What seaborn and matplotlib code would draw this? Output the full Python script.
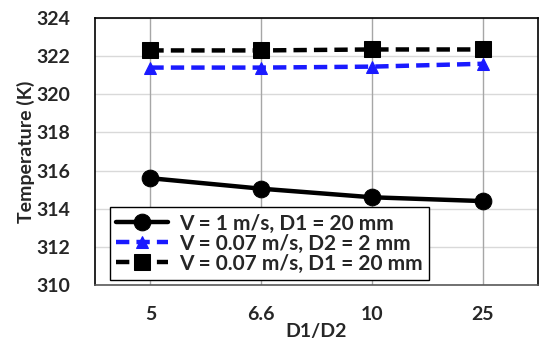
import matplotlib
matplotlib.use("Agg")
import matplotlib.pyplot as plt
import seaborn as sns
import pandas as pd

categories = ["5", "6.6", "10", "25"]
s1_label = "V = 1 m/s, D1 = 20 mm"
s1 = [315.6, 315.05, 314.6, 314.4]
s2_label = "V = 0.07 m/s, D2 = 2 mm"
s2 = [321.4, 321.4, 321.45, 321.6]
s3_label = "V = 0.07 m/s, D1 = 20 mm"
s3 = [322.3, 322.3, 322.35, 322.35]
yticks = [310, 312, 314, 316, 318, 320, 322, 324]

sns.set_style("white")
plt.rcParams['font.family'] = ['Lato', 'DejaVu Sans']

fig = plt.figure(figsize=(5.5, 3.48), dpi=100)
ax = fig.add_axes([95/550, 1-285/348, (538-95)/550, (285-18)/348])

styles = [
    (s1, s1_label, "black", "o", (None, None), 12, "-"),
    (s2, s2_label, "#1a1aff", "^", (3, 1.6), 9, "--"),
    (s3, s3_label, "black", "s", (3, 1.6), 11, "--"),
]
for vals, lab, col, mk, dash, ms, ls in styles:
    df = pd.DataFrame({"x": categories, "y": vals})
    sns.lineplot(data=df, x="x", y="y", ax=ax, color=col, marker=mk,
                 markersize=ms, linewidth=3.2, label=lab, markeredgecolor=col,
                 linestyle=ls, sort=False, zorder=3)
    if ls == "--":
        ax.lines[-1].set_dashes(dash)

ax.set_xlim(-0.5, 3.5)
ax.set_ylim(310, 324)
ax.set_yticks(yticks)
ax.set_yticklabels([str(t) for t in yticks], fontsize=14, fontweight="bold")
ax.set_xticks(range(len(categories)))
ax.set_xticklabels(categories, fontsize=14, fontweight="bold")
ax.tick_params(axis="x", length=0, pad=15)
ax.tick_params(axis="y", length=0, pad=18)

ax.grid(axis="y", color="#d9d9d9", linewidth=1)
for i in range(len(categories)):
    ax.axvline(i, color="#a6a6a6", linewidth=1, zorder=1)
ax.set_axisbelow(True)

for sp in ax.spines.values():
    sp.set_visible(True)
    sp.set_color("black")
    sp.set_linewidth(1.2)
ax.spines["bottom"].set_color("#595959")

ax.set_xlabel("D1/D2", fontsize=14, fontweight="bold", labelpad=0)
ax.set_ylabel("Temperature (K)", fontsize=14, fontweight="bold", labelpad=1)

leg = ax.legend(loc="lower left", bbox_to_anchor=(0.034, 0.019), frameon=True,
                fancybox=False, edgecolor="black", framealpha=1,
                prop={"size": 15, "weight": "bold"}, handlelength=2.5,
                handletextpad=0.5, borderpad=0.3, labelspacing=0.0,
                borderaxespad=0)
leg.get_frame().set_linewidth(1.0)

fig.savefig("out.png", dpi=100)
